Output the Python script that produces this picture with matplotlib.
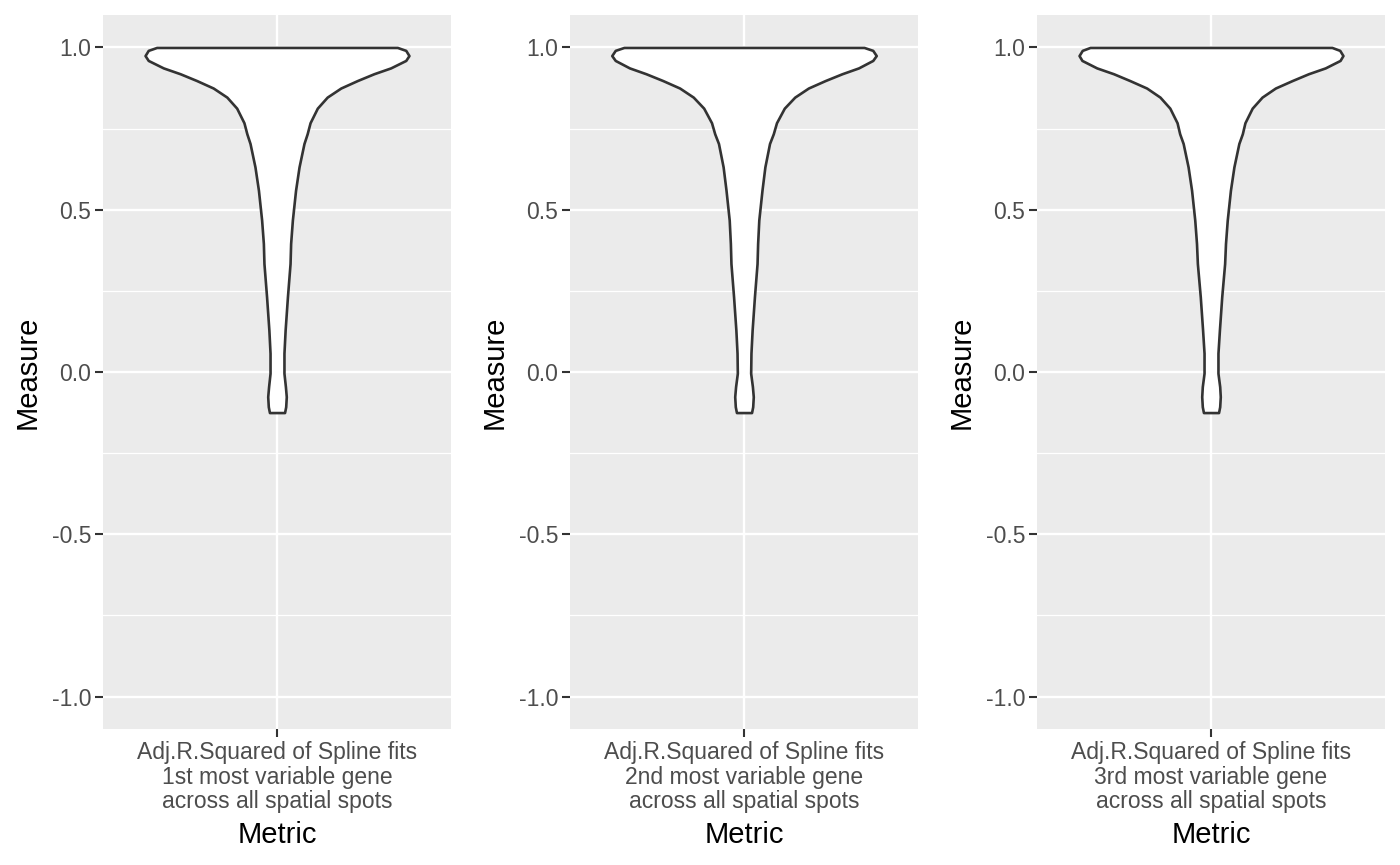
import numpy as np
import matplotlib
matplotlib.use("Agg")
import matplotlib.pyplot as plt

plt.rcParams['font.family'] = ['Liberation Sans', 'DejaVu Sans']

# ---------------------------------------------------------------------------
# data (violin outline: measure level -> half width)
# ---------------------------------------------------------------------------
MEASURE_Y = [1.0, 0.991, 0.975, 0.960, 0.937, 0.919, 0.898, 0.875, 0.847,
             0.813, 0.768, 0.734, 0.704, 0.632, 0.560, 0.468, 0.396, 0.334,
             0.232, 0.129, 0.058, -0.004, -0.045, -0.076, -0.107, -0.125]

HALF_WIDTH_1 = [0.415, 0.444, 0.455, 0.444, 0.392, 0.334, 0.277, 0.220, 0.173,
                0.139, 0.114, 0.104, 0.093, 0.076, 0.064, 0.053, 0.047, 0.045,
                0.036, 0.028, 0.024, 0.024, 0.029, 0.032, 0.030, 0.026]
HALF_WIDTH_2 = [0.414, 0.444, 0.456, 0.444, 0.395, 0.338, 0.280, 0.222, 0.175,
                0.139, 0.112, 0.101, 0.088, 0.072, 0.062, 0.051, 0.047, 0.045,
                0.036, 0.028, 0.024, 0.023, 0.029, 0.032, 0.030, 0.026]
HALF_WIDTH_3 = [0.417, 0.444, 0.455, 0.445, 0.394, 0.336, 0.280, 0.222, 0.176,
                0.142, 0.117, 0.108, 0.096, 0.079, 0.067, 0.056, 0.050, 0.047,
                0.037, 0.029, 0.024, 0.024, 0.030, 0.032, 0.030, 0.026]

METRIC_LABELS = [
    "Adj.R.Squared of Spline fits\n1st most variable gene\nacross all spatial spots",
    "Adj.R.Squared of Spline fits\n2nd most variable gene\nacross all spatial spots",
    "Adj.R.Squared of Spline fits\n3rd most variable gene\nacross all spatial spots",
]
Y_TICKS = [-1.0, -0.5, 0.0, 0.5, 1.0]
Y_TICK_LABELS = ["-1.0", "-0.5", "0.0", "0.5", "1.0"]
Y_MINOR = [-0.75, -0.25, 0.25, 0.75]

# ---------------------------------------------------------------------------
# layout
# ---------------------------------------------------------------------------
W, H = 1400, 865
PANEL_LEFT = [103, 570, 1037]
PANEL_W, PANEL_TOP, PANEL_BOTTOM = 348, 15, 729

fig = plt.figure(figsize=(W / 100, H / 100), dpi=100)

widths = [HALF_WIDTH_1, HALF_WIDTH_2, HALF_WIDTH_3]

for left, hw, label in zip(PANEL_LEFT, widths, METRIC_LABELS):
    ax = fig.add_axes([left / W, 1 - PANEL_BOTTOM / H,
                       PANEL_W / W, (PANEL_BOTTOM - PANEL_TOP) / H])
    ax.set_facecolor("#EBEBEB")
    for s in ax.spines.values():
        s.set_visible(False)

    ax.set_xlim(0.4, 1.6)
    ax.set_ylim(-1.1, 1.1)

    # grid
    for yv in Y_MINOR:
        ax.axhline(yv, color="white", lw=0.9, zorder=0.5)
    for yv in Y_TICKS:
        ax.axhline(yv, color="white", lw=1.7, zorder=0.6)
    ax.axvline(1, color="white", lw=1.7, zorder=0.6)

    y = np.array(MEASURE_Y)
    w = np.array(hw)
    ax.fill_betweenx(y, 1 - w, 1 + w, facecolor="white", edgecolor="#333333",
                     linewidth=1.9, joinstyle="round", zorder=2)

    ax.set_yticks(Y_TICKS)
    ax.set_yticklabels(Y_TICK_LABELS)
    ax.set_xticks([1])
    ax.set_xticklabels([label], linespacing=1.1)
    ax.tick_params(axis="both", colors="#333333", length=5.5, width=1.5,
                   labelsize=16.5, labelcolor="#4D4D4D", pad=3)

    ax.set_xlabel("Metric", fontsize=21, labelpad=5.5)
    ax.set_ylabel("Measure", fontsize=21, labelpad=7.5)

fig.savefig("out.png", dpi=100)
